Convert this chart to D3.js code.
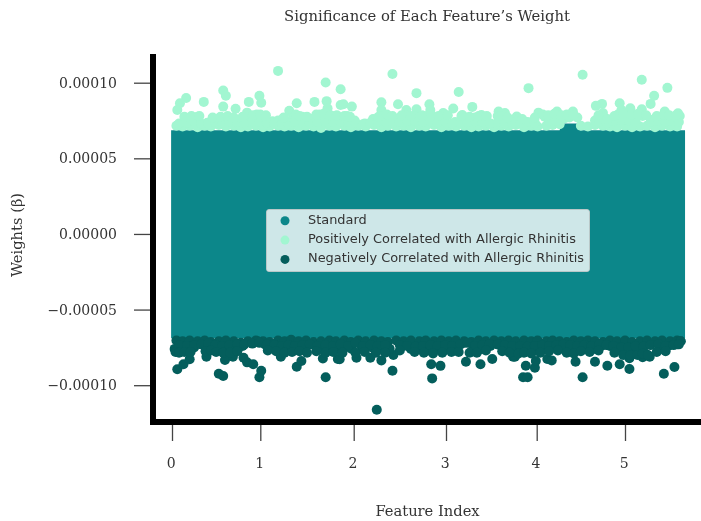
<!DOCTYPE html>
<html lang="en">
<head>
<meta charset="utf-8">
<title>Significance of Each Feature's Weight</title>
<script src="https://cdn.jsdelivr.net/npm/d3@7"></script>
<style>
  body { margin: 0; background: #fff; }
  svg { display: block; filter: blur(0.4px); }
  text { font-family: "DejaVu Serif", serif; fill: #333; }
  .legend text { font-family: "DejaVu Sans", sans-serif; }
</style>
</head>
<body>
<script>
// weights are all in units of 1e-5
var xTicks = [0, 1, 2, 3, 4, 5];
var yTicks = [-10, -5, 0, 5, 10];
var yTickLabels = ["\u22120.00010", "\u22120.00005", "0.00000", "0.00005", "0.00010"];

// the standard features are a solid mass, so only their outline is kept
var stdFeature = [-0.01, 1.5, 3.0, 4.26, 4.28, 4.46, 4.49, 5.68];
var stdUpper = [6.85, 6.85, 6.85, 6.85, 7.3, 7.3, 6.85, 6.85];
var stdLower = [-6.9, -6.9, -6.9, -6.9, -6.9, -6.9, -6.9, -6.9];

var posFeature = [
  1.19, 1.70, 1.86, .16, .09, .06, .58, .61, .36, .99, 1.01, .87, .58, .72, .85, 1.39, 1.58, 1.71, 1.86, 1.31, 1.72,
  2.42, 2.68, 3.14, 2.30, 2.48, 2.82, 2.68, 3.08, 3.29, 2.57, 2.30, 1.89, 1.98, 2.83, 3.58, 3.65, 3.39, 3.18, 2.97, 3.78,
  4.52, 3.91, 5.19, 5.48, 5.33, 5.29, 4.74, 4.67, 4.94, 5.06, 4.96, 5.19, 5.45, 5.60, 4.02, 4.23, 4.41, 4.75,
  .05, .12, .20, .29, .37, .44, .53, .61, .70, .78, .86, .95, 1.03, 1.10, 1.19, 1.26, 1.33, 1.41, 1.49, 1.57, 1.65, 1.74, 1.81, 1.90, 1.97,
  2.05, 2.13, 2.22, 2.30, 2.37, 2.46, 2.54, 2.62, 2.71, 2.78, 2.87, 2.95, 3.03, 3.11, 3.20, 3.28, 3.36, 3.44, 3.53, 3.61, 3.69, 3.77, 3.86, 3.94,
  4.01, 4.11, 4.18, 4.26, 4.50, 4.58, 4.66, 4.75, 4.83, 4.91, 5.00, 5.08, 5.17, 5.25, 5.34, 5.42, 5.51, 5.59,
  .18, .24, .29, .40, .52, .60, .68, .77, .88, .96, 1.03, 1.13, 1.19, 1.29, 1.35, 1.45, 1.55, 1.64, 1.77, 1.85,
  1.93, 2.01, 2.12, 2.21, 2.31, 2.45, 2.56, 2.66, 2.79, 2.88, 2.97, 3.10, 3.21, 3.32, 3.41, 3.49, 3.57, 3.71, 3.77,
  3.79, 4.09, 4.17, 4.24, 4.32, 4.37, 4.46, 4.66, 4.74, 4.92, 5.00, 5.11, 5.20, 5.31, 5.40, 5.53, 5.62,
  .08, .17, .25, .33, .41, .49, .57, .65, .74, .82, .91, .99, 1.07, 1.15, 1.23, 1.30, 1.37, 1.45, 1.53, 1.61,
  1.70, 1.78, 1.86, 1.94, 2.02, 2.10, 2.18, 2.26, 2.34, 2.42, 2.50, 2.58, 2.67, 2.75, 2.83, 2.91, 2.99, 3.07, 3.16, 3.24, 3.32,
  3.40, 3.48, 3.57, 3.65, 3.73, 3.82, 3.90, 3.98, 4.14, 4.22, 4.71, 4.79, 4.87, 4.96, 5.04, 5.12, 5.29, 5.38, 5.46, 5.55, 5.61,
  .14, .22, .31, .46, .55, .63, .70, .80, .92, 1.00, 1.06, 1.25, 1.38, 1.42, 1.50, 1.60, 1.68, 1.75, 1.82, 1.90,
  1.96, 2.27, 2.36, 2.42, 2.52, 2.62, 2.74, 2.84, 2.92, 3.02, 3.17, 3.26, 3.36, 3.45, 3.60, 3.68, 3.84, 3.98,
  4.07, 4.13, 4.20, 4.28, 4.34, 4.42, 4.70, 4.80, 4.88, 4.98, 5.08, 5.15, 5.24, 5.36, 5.44, 5.50, 5.58
];
var posWeight = [
  10.78, 10.01, 9.57, 8.99, 8.64, 8.20, 9.48, 9.14, 8.73, 9.14, 8.68, 8.73, 8.42, 8.28, 8.02, 8.64, 8.73, 8.78, 8.53, 8.15, 8.31,
  10.58, 9.31, 9.39, 8.71, 8.58, 8.58, 8.25, 8.29, 8.40, 8.20, 8.20, 8.58, 8.42, 8.20, 8.09, 8.00, 7.87, 7.87, 8.00, 7.76,
  10.52, 9.64, 10.19, 9.66, 9.14, 8.60, 8.60, 8.47, 8.64, 8.31, 8.20, 8.24, 8.09, 7.98, 8.02, 8.09, 8.09, 8.00,
  7.15, 7.1, 7.15, 7.05, 7.15, 7.1, 7.2, 7.1, 7.15, 7.05, 7.1, 7.15, 7.05, 7.1, 7.15, 7.1, 7.15, 7.05, 7.15, 7.1, 7.0, 7.15, 7.1, 7.15, 7.05,
  7.15, 7.1, 7.2, 7.05, 7.15, 7.1, 7.15, 7.05, 7.15, 7.1, 7.2, 7.05, 7.15, 7.1, 7.15, 7.05, 7.1, 7.15, 7.05, 7.15, 7.1, 7.2, 7.05, 7.15,
  7.1, 7.15, 7.2, 7.25, 7.15, 7.1, 7.2, 7.15, 7.1, 7.05, 7.15, 7.05, 7.1, 7.15, 7.05, 7.15, 7.1, 7.1,
  7.65, 7.7, 7.75, 7.35, 7.6, 7.65, 7.6, 7.45, 7.8, 7.9, 7.7, 7.45, 7.5, 7.4, 7.8, 7.75, 7.6, 7.9, 7.8, 7.7,
  7.8, 7.5, 7.3, 7.6, 7.8, 7.5, 7.85, 7.8, 7.8, 7.6, 7.9, 7.4, 7.7, 7.7, 7.7, 7.3, 7.8, 7.3, 7.6,
  7.5, 7.75, 7.7, 7.9, 7.65, 7.7, 7.7, 7.5, 7.9, 7.9, 7.8, 7.9, 7.8, 7.55, 7.7, 7.75, 7.8,
  7.3, 7.35, 7.45, 7.3, 7.3, 7.4, 7.35, 7.45, 7.4, 7.35, 7.45, 7.4, 7.35, 7.3, 7.3, 7.3, 7.4, 7.45, 7.35, 7.4,
  7.45, 7.4, 7.4, 7.45, 7.35, 7.25, 7.35, 7.4, 7.45, 7.35, 7.4, 7.45, 7.45, 7.4, 7.45, 7.35, 7.45, 7.3, 7.35, 7.4, 7.45,
  7.4, 7.3, 7.4, 7.3, 7.25, 7.35, 7.4, 7.35, 7.45, 7.5, 7.4, 7.3, 7.45, 7.5, 7.5, 7.45, 7.4, 7.45, 7.4, 7.45, 7.4,
  7.75, 7.8, 7.8, 7.7, 7.75, 7.8, 7.7, 7.75, 7.85, 7.9, 7.85, 7.7, 7.9, 7.8, 7.75, 7.9, 7.95, 7.85, 7.85, 7.8,
  7.75, 7.75, 7.9, 7.8, 7.85, 7.8, 7.85, 7.9, 7.8, 7.85, 7.8, 7.75, 7.8, 7.8, 7.8, 7.7, 7.6, 7.7,
  7.9, 7.85, 7.95, 7.85, 7.9, 7.85, 7.85, 7.6, 7.8, 7.95, 7.9, 7.95, 7.85, 7.8, 7.9, 7.85, 7.85
];

var negFeature = [
  .06, .13, .20, .53, .58, .99, 1.01, 1.70, .81, .85, .92, 1.39, 1.44, 1.83, 1.67, 1.22, .60, .69, .39,
  2.25, 2.42, 2.85, 2.84, 2.94, 3.22, 3.38, 3.51, 2.30, 2.18, 2.03, 1.85, 2.43, 3.74,
  4.52, 3.85, 3.90, 3.88, 3.98, 3.99, 4.12, 4.17, 4.44, 4.66, 4.80, 4.94, 5.05, 5.05, 5.44, 5.56, 5.20, 5.28, 3.76,
  .05, .12, .20, .29, .37, .44, .53, .61, .70, .78, .86, .95, 1.03, 1.10, 1.19, 1.26, 1.33, 1.41, 1.49, 1.57, 1.65, 1.74, 1.81, 1.90, 1.97,
  2.05, 2.13, 2.22, 2.30, 2.37, 2.46, 2.54, 2.62, 2.71, 2.78, 2.87, 2.95, 3.03, 3.11, 3.20, 3.28, 3.36, 3.44, 3.53, 3.61, 3.69, 3.77, 3.86, 3.94,
  4.01, 4.11, 4.18, 4.26, 4.34, 4.42, 4.50, 4.58, 4.66, 4.75, 4.83, 4.91, 5.00, 5.08, 5.17, 5.25, 5.34, 5.42, 5.51, 5.59, 5.63,
  .03, .10, .18, .25, .39, .46, .55, .63, .72, .80, .97, 1.05, 1.14, 1.21, 1.30, 1.39, 1.47, 1.56, 1.65, 1.75, 1.83, 1.91, 1.98,
  2.09, 2.20, 2.30, 2.39, 2.53, 2.62, 2.72, 2.80, 2.90, 3.01, 3.10, 3.20, 3.29, 3.39, 3.49, 3.57, 3.66, 3.74, 3.82, 3.90, 3.99,
  4.09, 4.18, 4.28, 4.38, 4.46, 4.55, 4.64, 4.73, 4.83, 4.92, 5.01, 5.10, 5.17, 5.23, 5.40, 5.49, 5.59, 5.63,
  .08, .17, .25, .33, .41, .49, .57, .65, .74, .82, .91, .99, 1.07, 1.15, 1.23, 1.30, 1.37, 1.45, 1.53, 1.61,
  1.70, 1.78, 1.86, 1.94, 2.02, 2.10, 2.18, 2.26, 2.34, 2.50, 2.58, 2.67, 2.75, 2.83, 2.91, 2.99, 3.07, 3.16, 3.24, 3.32,
  3.40, 3.48, 3.57, 3.65, 3.73, 3.82, 3.90, 3.98, 4.06, 4.14, 4.22, 4.30, 4.38, 4.46, 4.54, 4.62, 4.71, 4.79, 4.87, 4.96, 5.04, 5.12, 5.21, 5.29, 5.38, 5.46, 5.55, 5.61,
  .04, .08, .14, .21, .38, .44, .50, .58, .66, .74, 1.08, 1.17, 1.26, 1.34, 1.42, 1.50, 1.60, 1.70, 1.78, 1.88,
  2.02, 2.12, 2.24, 2.34, 2.50, 2.66, 2.76, 2.86, 2.96, 3.06, 3.14, 3.26, 3.34, 3.44, 3.62, 3.70, 3.80, 3.86, 3.94,
  4.04, 4.14, 4.24, 4.34, 4.42, 4.50, 4.60, 4.70, 4.88, 4.98, 5.06, 5.14, 5.20, 5.26, 5.36, 5.46
];
var negWeight = [
  -8.95, -8.62, -8.29, -9.24, -9.39, -9.48, -9.04, -9.48, -8.18, -8.49, -8.62, -8.78, -8.40, -8.27, -8.23, -8.12, -8.33, -8.12, -8.12,
  -11.62, -9.04, -9.55, -8.62, -8.72, -8.45, -8.62, -8.27, -8.36, -8.19, -8.19, -8.29, -8.00, -8.12,
  -9.48, -9.48, -9.48, -8.71, -8.85, -8.40, -8.27, -8.36, -8.45, -8.45, -8.71, -8.62, -8.93, -8.22, -9.24, -8.80, -8.15, -8.12, -8.12,
  -7.05, -7.1, -7.05, -7.1, -7.05, -7.15, -7.1, -7.05, -7.1, -7.2, -7.1, -7.05, -7.1, -7.15, -7.05, -7.1, -7.0, -7.1, -7.05, -7.15, -7.1, -7.05, -7.1, -7.05, -7.15,
  -7.05, -7.1, -7.05, -7.1, -7.15, -7.05, -7.1, -7.05, -7.1, -7.05, -7.1, -7.05, -7.1, -7.05, -7.1, -7.15, -7.05, -7.1, -7.05, -7.1, -7.05, -7.1, -7.05, -7.1,
  -7.05, -7.1, -7.05, -7.1, -7.15, -7.05, -7.1, -7.05, -7.1, -7.15, -7.05, -7.1, -7.05, -7.15, -7.1, -7.05, -7.1, -7.05, -7.1, -7.05, -7.1,
  -7.6, -7.7, -7.6, -7.5, -7.5, -7.3, -7.5, -7.5, -7.6, -7.4, -7.1, -7.3, -7.3, -7.5, -7.5, -7.6, -7.6, -7.3, -7.6, -7.5, -7.6, -7.5, -7.6,
  -7.5, -7.5, -7.6, -7.6, -7.4, -7.6, -7.6, -7.7, -7.6, -7.5, -7.6, -7.2, -7.7, -7.6, -7.4, -7.3, -7.5, -7.6, -7.6, -7.7, -7.6,
  -7.4, -7.5, -7.5, -7.5, -7.7, -7.5, -7.6, -7.4, -7.4, -7.6, -7.8, -7.8, -7.7, -7.9, -7.6, -7.4, -7.3, -7.1,
  -7.35, -7.4, -7.35, -7.3, -7.25, -7.35, -7.4, -7.35, -7.3, -7.3, -7.25, -7.2, -7.3, -7.35, -7.4, -7.35, -7.4, -7.35, -7.3, -7.4,
  -7.35, -7.4, -7.3, -7.4, -7.2, -7.4, -7.35, -7.4, -7.35, -7.35, -7.4, -7.45, -7.4, -7.35, -7.4, -7.35, -7.4, -7.3, -7.2, -7.4,
  -7.35, -7.3, -7.3, -7.35, -7.4, -7.4, -7.45, -7.4, -7.35, -7.4, -7.35, -7.3, -7.35, -7.4, -7.35, -7.4, -7.3, -7.35, -7.4, -7.5, -7.5, -7.4, -7.45, -7.35, -7.3, -7.4, -7.35, -7.3,
  -7.8, -7.85, -7.8, -7.8, -7.75, -7.7, -7.8, -7.85, -7.85, -7.75, -7.7, -7.75, -7.85, -7.8, -7.75, -7.85, -7.75, -7.85, -7.8, -7.85,
  -7.85, -7.8, -7.85, -7.85, -7.7, -7.8, -7.85, -7.9, -7.85, -7.8, -7.8, -7.85, -7.85, -7.7, -7.75, -7.85, -7.9, -7.85, -7.9,
  -7.85, -7.75, -7.7, -7.85, -7.9, -7.75, -7.8, -7.7, -7.85, -8.0, -8.05, -8.0, -7.9, -8.0, -7.8, -7.75
];

var legendLabels = ["Standard", "Positively Correlated with Allergic Rhinitis", "Negatively Correlated with Allergic Rhinitis"];

var w = 701, h = 521;
var teal = "#0c878a", mint = "#a2f6d1", dark = "#045e5c";
var dotR = 5;

var svg = d3.select("body").append("svg").attr("width", w).attr("height", h);

// tick spacing in the picture is not quite even, so the scale is piecewise
var x = d3.scaleLinear().domain(xTicks).range([172, 260.3, 353.7, 446, 536.7, 625]);
var y = d3.scaleLinear().domain([-10, 10]).range([385.2, 82.7]);

// STANDARD
var band = d3.area()
  .x(function(d) { return x(d[0]); })
  .y0(function(d) { return y(d[2]); })
  .y1(function(d) { return y(d[1]); });
svg.append("path")
  .attr("d", band(d3.zip(stdFeature, stdUpper, stdLower)))
  .attr("fill", teal);

// POSITIVE AND NEGATIVE
function dots(xs, ys, color) {
  svg.append("g").selectAll("circle")
    .data(d3.zip(xs, ys))
    .enter()
    .append("circle")
    .attr("cx", function(d) { return x(d[0]); })
    .attr("cy", function(d) { return y(d[1]); })
    .attr("r", dotR)
    .attr("fill", color);
}
dots(posFeature, posWeight, mint);
dots(negFeature, negWeight, dark);

// AXES
var xAxis = svg.append("g")
  .attr("transform", "translate(0,425)")
  .call(d3.axisBottom(x).tickValues(xTicks).tickFormat(d3.format("d")).tickSize(16).tickPadding(17));
var yAxis = svg.append("g")
  .attr("transform", "translate(150,0)")
  .call(d3.axisLeft(y).tickValues(yTicks).tickFormat(function(d, i) { return yTickLabels[i]; }).tickSize(16).tickPadding(17));
xAxis.select(".domain").remove();
yAxis.select(".domain").remove();
svg.selectAll(".tick line").attr("stroke", "#444").attr("stroke-width", 1.3);
svg.selectAll(".tick text").attr("font-size", 14).attr("fill", "#333");
svg.selectAll(".tick text").style("font-family", "\"DejaVu Serif\", serif");
xAxis.selectAll(".tick text").attr("dx", -1.2);

// SPINES
svg.append("rect").attr("x", 150).attr("y", 54).attr("width", 6).attr("height", 371).attr("fill", "#000");
svg.append("rect").attr("x", 150).attr("y", 419).attr("width", 551).attr("height", 6).attr("fill", "#000");

// LABELS
svg.append("text").attr("x", 427).attr("y", 21).attr("text-anchor", "middle").attr("font-size", 14.8)
  .text("Significance of Each Feature\u2019s Weight");
svg.append("text").attr("x", 427.5).attr("y", 516).attr("text-anchor", "middle").attr("font-size", 14.7)
  .text("Feature Index");
svg.append("text").attr("transform", "translate(22,235) rotate(-90)").attr("text-anchor", "middle").attr("font-size", 14.7)
  .text("Weights (\u03b2)");

// LEGEND
var legend = svg.append("g").attr("class", "legend");
legend.append("rect")
  .attr("x", 266.5).attr("y", 209.5).attr("width", 323).attr("height", 62).attr("rx", 2.5)
  .attr("fill", "#fff").attr("fill-opacity", 0.8).attr("stroke", "#ccc").attr("stroke-opacity", 0.8);
var rows = legend.selectAll("g")
  .data(legendLabels)
  .enter()
  .append("g")
  .attr("transform", function(d, i) { return "translate(285," + (220.8 + i * 19.3) + ")"; });
rows.append("circle").attr("r", 4.5).attr("fill", function(d, i) { return [teal, mint, dark][i]; });
rows.append("text").attr("x", 23).attr("y", 3).attr("font-size", 12.9).text(function(d) { return d; });
</script>
</body>
</html>
